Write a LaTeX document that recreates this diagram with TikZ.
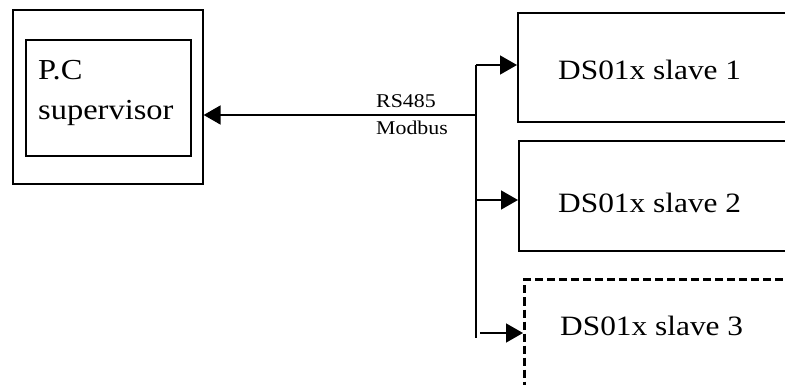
\documentclass[tikz,border=0pt]{standalone}
\usepackage{fontspec}
\setmainfont[FakeStretch=1.12]{Liberation Serif}
\usetikzlibrary{arrows.meta}
\begin{document}
\begin{tikzpicture}[x=1pt,y=-1pt,
  box/.style={draw,line width=1.6pt,inner sep=0pt,anchor=north west},
  dbox/.style={box,line width=3pt,dash pattern=on 8pt off 4pt},
  big/.style={font=\fontsize{28}{34}\selectfont,anchor=base west,inner sep=0pt},
  pcfont/.style={font=\fontsize{29}{34}\selectfont,anchor=base west,inner sep=0pt},
  small/.style={font=\fontsize{19.5}{24}\selectfont,anchor=base west,inner sep=0pt},
  wire/.style={line width=1.6pt},
  arr/.style={wire,-{Triangle[length=17pt,width=19pt]}}]
\useasboundingbox (0,0) rectangle (785,385);
\clip (0,0) rectangle (785,385);
% supervisor
\node[box,minimum width=190pt,minimum height=174pt] (outer) at (12,9) {};
\node[box,minimum width=165pt,minimum height=116pt] (inner) at (25,39) {};
\node[pcfont] (pc) at (38,80) {P.C};
\node[pcfont] (sup) at (38,120) {supervisor};
% slaves
\node[box,minimum width=300pt,minimum height=109pt] (s1) at (517,12) {};
\node[box,minimum width=300pt,minimum height=110pt] (s2) at (518,140) {};
\node[dbox,minimum width=300pt,minimum height=150pt] (s3) at (523,278) {};
\node[big] (t1) at (558,80) {DS01x slave 1};
\node[big] (t2) at (558,212) {DS01x slave 2};
\node[big] (t3) at (560,335) {DS01x slave 3};
% bus
\coordinate (j) at (476,115);
\coordinate (btop) at (476,65);
\coordinate (bbot) at (476,338);
\coordinate (b2) at (476,200);
\coordinate (b3) at (480,333);
\draw[wire] (btop) -- (bbot);
\draw[arr] (j) -- (j -| outer.east);
\draw[arr] (btop) -- (btop -| s1.west);
\draw[arr] (b2) -- (b2 -| s2.west);
\draw[arr] (b3) -- (b3 -| s3.west);
\node[small] (rs) at (376,108) {RS485};
\node[small] (mb) at (376,135) {Modbus};
\end{tikzpicture}
\end{document}
